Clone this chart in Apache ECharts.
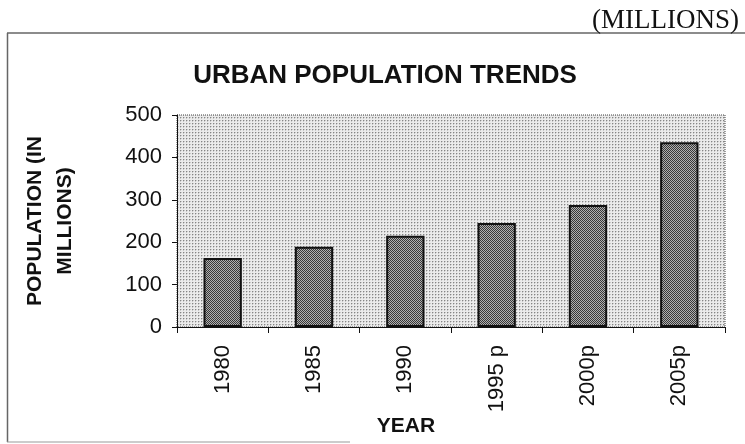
<!DOCTYPE html>
<html>
<head>
<meta charset="utf-8">
<script src="https://cdn.jsdelivr.net/npm/echarts@6/dist/echarts.min.js"></script>
<style>html,body{margin:0;padding:0;background:#fff}#c{width:745px;height:444px}</style>
</head>
<body>
<div id="c"></div>
<script>
const years = ['1980', '1985', '1990', '1995 p', '2000p', '2005p'];
const population = [163, 189, 215, 245, 288, 436];
const yTicks = [0, 100, 200, 300, 400, 500];
const chartTitle = 'URBAN POPULATION TRENDS';

function makePattern(size, bg, dots) {
  const cv = document.createElement('canvas');
  cv.width = size; cv.height = size;
  const ctx = cv.getContext('2d');
  ctx.fillStyle = bg; ctx.fillRect(0, 0, size, size);
  dots.forEach(d => { ctx.fillStyle = d[2]; ctx.fillRect(d[0], d[1], 1, 1); });
  return cv;
}
const bgPat = makePattern(3, '#ebebeb', [[0,0,'#858585'],[1,0,'#c8c8c8'],[0,1,'#c8c8c8']]);
const barPat = makePattern(2, '#b0b0b0', [[0,0,'#383838'],[1,1,'#383838']]);

const chart = echarts.init(document.getElementById('c'), null, {renderer: 'canvas'});
const F = "'Liberation Sans', Arial, sans-serif";
chart.setOption({
  animation: false,
  backgroundColor: '#fff',
  title: {
    text: chartTitle,
    left: 380, textAlign: 'center', top: 58,
    textStyle: {fontFamily: F, fontWeight: 'bold', fontSize: 26, color: '#111'}
  },
  graphic: [
    {type: 'line', shape: {x1: 7, y1: 33, x2: 745, y2: 33}, style: {stroke: '#666', lineWidth: 1.5}},
    {type: 'line', shape: {x1: 7.5, y1: 33, x2: 7.5, y2: 442}, style: {stroke: '#666', lineWidth: 1.5}},
    {type: 'line', shape: {x1: 7, y1: 442, x2: 350, y2: 442}, style: {stroke: '#999', lineWidth: 1}},
    {type: 'text', right: 6, top: 7, style: {text: '(MILLIONS)', fontFamily: "'Liberation Serif', 'Times New Roman', serif", fontSize: 27, fill: '#111'}}
  ],
  grid: {
    left: 177, top: 115, right: 20, bottom: 117,
    show: true,
    backgroundColor: {image: bgPat, repeat: 'repeat'},
    borderColor: '#444', borderWidth: 1, borderType: 'dotted'
  },
  xAxis: {
    type: 'category',
    data: years,
    name: 'YEAR',
    nameLocation: 'middle',
    nameGap: 66,
    nameTextStyle: {fontFamily: F, fontWeight: 'bold', fontSize: 21, color: '#111', padding: [0, 90, 0, 0]},
    axisLine: {lineStyle: {color: '#111', width: 1}},
    axisTick: {show: true, length: 6, alignWithLabel: false, lineStyle: {color: '#111'}},
    axisLabel: {rotate: 90, margin: 18, fontFamily: F, fontSize: 22, color: '#111'}
  },
  yAxis: {
    type: 'value',
    min: 0, max: 500, interval: 100,
    name: 'POPULATION (IN\nMILLIONS)',
    nameLocation: 'middle',
    nameGap: 97,
    nameRotate: 90,
    nameTextStyle: {fontFamily: F, fontWeight: 'bold', fontSize: 21, color: '#111', lineHeight: 30},
    axisLine: {show: true, lineStyle: {color: '#111', width: 1}},
    axisTick: {show: true, length: 5, lineStyle: {color: '#111'}},
    splitLine: {show: false},
    axisLabel: {margin: 15, fontFamily: F, fontSize: 22, color: '#111',
      formatter: v => yTicks.indexOf(v) >= 0 ? String(v) : ''}
  },
  series: [{
    type: 'bar',
    data: population,
    barWidth: '42%',
    itemStyle: {color: {image: barPat, repeat: 'repeat'}, borderColor: '#111', borderWidth: 2}
  }]
});
</script>
</body>
</html>
